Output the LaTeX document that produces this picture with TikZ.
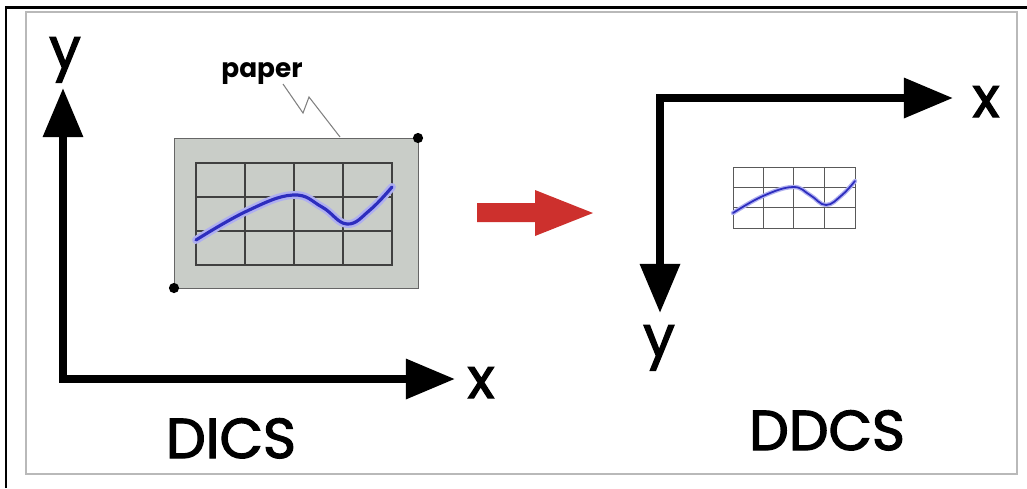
\documentclass[tikz,border=0pt]{standalone}
\usepackage{fontspec}
\setmainfont{Poppins}
\newfontfamily\tebal[FakeBold=2.2]{Poppins}
\usepackage{tikz}
\usetikzlibrary{arrows.meta, positioning, calc}
\definecolor{kurvabiru}{RGB}{45,45,190}
\definecolor{kurvasinar}{RGB}{175,175,240}
\definecolor{kertasabu}{RGB}{201,205,200}
\definecolor{panahmerah}{RGB}{205,48,45}

\begin{document}
\begin{tikzpicture}[
    x=0.02cm, y=-0.02cm,
    sumbu/.style={line width=4.5pt, line join=miter,
                  {Triangle[length=28pt, width=22pt]}-{Triangle[length=28pt, width=22pt]}},
    huruf/.style={font=\tebal\fontsize{32}{34}\selectfont, anchor=base, inner sep=0pt},
    kisi/.style={draw=black!75, line width=0.6pt},
    kisikecil/.style={draw=black!65, line width=0.4pt}
  ]
    \useasboundingbox (0,0) rectangle (1027,488);

    % bingkai
    \draw[line width=1.7pt] (6,488) -- (6,7) -- (1027,7);
    \draw[gray!55, line width=1.2pt] (26,12) rectangle (1017,474);

    % DICS
    \coordinate (asal1) at (63,379);
    \coordinate (ujungy1) at (63,88);
    \coordinate (ujungx1) at (455,379);
    \draw[sumbu] (ujungy1) -- (asal1) -- (ujungx1);
    \node[huruf] (ylab1) at (65,68) {y};
    \node[huruf] (xlab1) at (481,398) {x};
    \node[huruf] (dics) at (231,458) {DICS};

    % kertas
    \draw[fill=kertasabu, draw=gray!80!black, line width=0.5pt] (174,138) rectangle (418,288);
    \fill (418,138) circle[radius=2.9pt];
    \fill (174,288) circle[radius=2.9pt];
    \draw[kisi] (196,163) rectangle (392,265);
    \foreach \gx in {245,294,343} \draw[kisi] (\gx,163) -- (\gx,265);
    \foreach \gy in {197,231} \draw[kisi] (196,\gy) -- (392,\gy);
    \draw[kurvasinar, line width=4.5pt, line cap=round]
      plot[smooth, tension=0.7] coordinates {(196,240) (247,211) (293,195) (322,207) (347,224) (370,210) (392,187)};
    \draw[kurvabiru, line width=1.8pt, line cap=round]
      plot[smooth, tension=0.7] coordinates {(196,240) (247,211) (293,195) (322,207) (347,224) (370,210) (392,187)};

    \node[font=\fontsize{15}{17}\selectfont\bfseries, anchor=base, inner sep=0pt] (kertas) at (262,77) {paper};
    \coordinate (tunjuk1) at (283,84);
    \coordinate (tunjuk2) at (340,137);
    \draw[gray, line width=0.6pt] (tunjuk1) -- (303,113) -- (309,97) -- (tunjuk2);

    % panah merah
    \fill[panahmerah] (477,203) -- (535,203) -- (535,190) -- (593,213)
      -- (535,236) -- (535,222) -- (477,222) -- cycle;

    % DDCS
    \coordinate (asal2) at (660,98);
    \coordinate (ujungx2) at (953,98);
    \coordinate (ujungy2) at (660,313);
    \draw[sumbu] (ujungx2) -- (asal2) -- (ujungy2);
    \node[huruf] (xlab2) at (986,117) {x};
    \node[huruf] (ylab2) at (659,356) {y};
    \node[huruf] (ddcs) at (827,450) {DDCS};

    \draw[kisikecil] (733,167) rectangle (855,228);
    \foreach \gx in {763,793,824} \draw[kisikecil] (\gx,167) -- (\gx,228);
    \foreach \gy in {187,207} \draw[kisikecil] (733,\gy) -- (855,\gy);
    \draw[kurvasinar, line width=2.5pt, line cap=round]
      plot[smooth, tension=0.7] coordinates {(733,213) (763,196) (793,187) (810,195) (826,205) (842,195) (855,181)};
    \draw[kurvabiru, line width=1pt, line cap=round]
      plot[smooth, tension=0.7] coordinates {(733,213) (763,196) (793,187) (810,195) (826,205) (842,195) (855,181)};
  \end{tikzpicture}
\end{document}
